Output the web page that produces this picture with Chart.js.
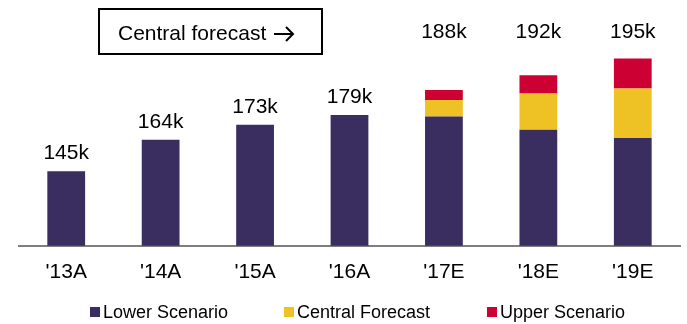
<!DOCTYPE html>
<html>
<head>
<meta charset="utf-8">
<script src="https://cdn.jsdelivr.net/npm/chart.js@4"></script>
<style>
  html, body { margin: 0; padding: 0; background: #fff; }
  #wrap { width: 687px; height: 324px; }
</style>
</head>
<body>
<div id="wrap"><canvas id="myChart" width="687" height="324"></canvas></div>
<script>
const years = ["'13A", "'14A", "'15A", "'16A", "'17E", "'18E", "'19E"];
const lowerScenario = [145, 164, 173, 179, 178, 170, 165];
const centralForecast = [0, 0, 0, 0, 10, 22, 30];   // on top of lower
const upperScenario = [0, 0, 0, 0, 6, 11, 18];      // on top of central
const totalLabels = ['145k', '164k', '173k', '179k', '188k', '192k', '195k'];
const forecastFrom = 4;

const FONT = '"Liberation Sans", Arial, sans-serif';

const labelPlugin = {
  id: 'labels',
  afterDatasetsDraw(chart) {
    const c = chart.ctx;
    const area = chart.chartArea;
    const meta = chart.getDatasetMeta(0);
    c.save();
    c.fillStyle = '#000';
    c.font = '21px ' + FONT;
    c.textAlign = 'center';
    c.textBaseline = 'middle';
    meta.data.forEach((bar, i) => {
      const y = i < forecastFrom ? bar.y - 18 : area.top - 15;
      c.fillText(totalLabels[i], bar.x, y);
    });

    // "Central forecast" box with arrow
    c.strokeStyle = '#000';
    c.lineWidth = 2;
    c.strokeRect(99, 9, 223, 45);
    c.textAlign = 'left';
    c.fillText('Central forecast', 118, 34);
    c.beginPath();
    c.moveTo(274, 34); c.lineTo(293, 34);
    c.moveTo(286, 27); c.lineTo(293, 34); c.lineTo(286, 41);
    c.stroke();

    // legend
    c.font = '18px ' + FONT;
    const xs = [90, 284, 487];
    chart.data.datasets.forEach((ds, i) => {
      c.fillStyle = ds.backgroundColor;
      c.fillRect(xs[i], 307, 10, 10);
      c.fillStyle = '#000';
      c.fillText(ds.label, xs[i] + 13, 313);
    });
    c.restore();
  }
};

new Chart(document.getElementById('myChart'), {
  type: 'bar',
  data: {
    labels: years,
    datasets: [
      { label: 'Lower Scenario', data: lowerScenario, backgroundColor: '#3A2D60' },
      { label: 'Central Forecast', data: centralForecast, backgroundColor: '#EEC124' },
      { label: 'Upper Scenario', data: upperScenario, backgroundColor: '#CC0033' }
    ]
  },
  options: {
    responsive: false,
    animation: false,
    layout: { padding: { top: 47, left: 19, right: 7, bottom: 25 } },
    datasets: { bar: { categoryPercentage: 1, barPercentage: 0.4 } },
    plugins: { legend: { display: false }, tooltip: { enabled: false } },
    scales: {
      x: {
        stacked: true,
        grid: { display: false, drawTicks: false },
        border: { display: true, color: '#7f7f7f', width: 2 },
        ticks: { color: '#000', font: { family: FONT, size: 21 }, padding: 14 }
      },
      y: {
        stacked: true,
        display: false,
        min: 100,
        max: 220
      }
    }
  },
  plugins: [labelPlugin]
});
</script>
</body>
</html>
